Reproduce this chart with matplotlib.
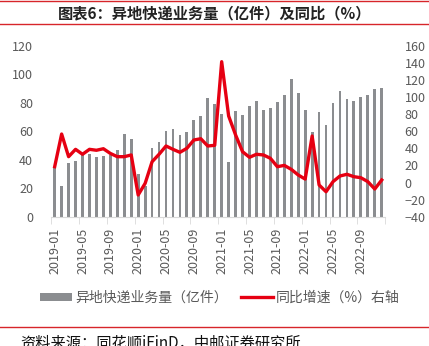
import matplotlib
matplotlib.use("Agg")
import matplotlib.pyplot as plt
import numpy as np
from matplotlib.lines import Line2D
from matplotlib.patches import Patch

plt.rcParams['font.family'] = ['Noto Sans CJK SC', 'DejaVu Sans']

# monthly data, 2019-01 .. 2022-12
months = [f"{y}-{m:02d}" for y in range(2019, 2023) for m in range(1, 13)]

# 异地快递业务量 (亿件)
volume = [34, 21.5, 38, 39, 43, 44, 42, 42.5, 43.5, 46.5, 57.7, 54.6,
          29.7, 21.6, 48, 52.5, 60.2, 61.2, 57, 59.5, 67.7, 70.5, 83, 79,
          72.4, 38.2, 74.5, 71.5, 77.8, 81.3, 75.2, 76.1, 80.4, 85.3, 96.7, 86.9,
          75.2, 59.5, 73.3, 64, 80.1, 88.5, 82.5, 81.3, 83.9, 85.7, 89.5, 90]

# 同比增速 (%), right axis
yoy = [18.5, 56.7, 30.2, 38.8, 33, 38.8, 37.7, 39.5, 34, 30.2, 30.2, 32.2,
       -14.6, -1, 24.3, 33, 42.7, 38.8, 35.3, 40, 49.7, 51.2, 42.7, 43.5,
       141.3, 77.8, 55.6, 36, 29.5, 33, 32.2, 28.3, 18.5, 20, 15.4, 8.8,
       4, 54.4, -2.9, -10.8, 1, 7.6, 9.6, 6.8, 5.6, 1, -7.6, 2.9]

title = "图表6：异地快递业务量（亿件）及同比（%）"
bar_label = "异地快递业务量（亿件）"
line_label = "同比增速（%）右轴"
source = "资料来源：同花顺iFinD，中邮证券研究所"

W, H = 429, 346
fig = plt.figure(figsize=(W / 100, H / 100), dpi=100)
ax = fig.add_axes([51.2 / W, 1 - 216.7 / H, (385.2 - 51.2) / W, (216.7 - 45.7) / H])
ax2 = ax.twinx()

x = np.arange(len(months))
bar_color = "#8b8d90"
red = "#e60012"
text_gray = "#595959"

ax.bar(x, volume, width=0.4, color=bar_color, zorder=1)
ax2.plot(x, yoy, color=red, lw=2.4, solid_joinstyle="round", zorder=3)

ax.set_xlim(-0.5, len(months) - 0.5)
ax.set_ylim(0, 120)
ax.set_yticks(range(0, 121, 20))
ax2.set_ylim(-40, 160)
ax2.set_yticks(range(-40, 161, 20))

ax.set_xticks(x[::4])
ax.set_xticklabels(months[::4], rotation=90)
# tick marks sit on the category boundaries, every 4 months
ax.set_xticks(list(np.arange(-0.5, 44, 4)) + [47.5], minor=True)
ax.tick_params(axis="x", which="major", length=0, pad=8, labelsize=9, labelcolor=text_gray)
ax.tick_params(axis="x", which="minor", length=5, color="#d9d9d9", direction="out")
ax.tick_params(axis="y", length=0, pad=13, labelsize=9, labelcolor=text_gray)
ax2.tick_params(axis="y", length=0, pad=14, labelsize=9, labelcolor=text_gray)

for a in (ax, ax2):
    for side in ("top", "left", "right"):
        a.spines[side].set_visible(False)
ax.spines["bottom"].set_color("#d9d9d9")
ax2.spines["bottom"].set_visible(False)

# title and red rules
fig.text(0.5, 1 - 13 / H, title, ha="center", va="center", fontsize=11,
         fontweight="bold", color="#222222")
for yy in (1, 24, 326.5):
    fig.add_artist(Line2D([0, 1], [1 - yy / H, 1 - yy / H], transform=fig.transFigure,
                          color="#d7252a", lw=1.0))

handles = [Patch(facecolor=bar_color, edgecolor="none"),
           Line2D([0], [0], color=red, lw=2.4)]
fig.legend(handles, [bar_label, line_label], loc="center", ncol=2,
           bbox_to_anchor=(220 / W, 1 - 298 / H), frameon=False, fontsize=10,
           labelcolor=text_gray, handlelength=2.3, handleheight=0.55,
           handletextpad=0.2, columnspacing=1.0)

fig.text(20 / W, 1 - 335 / H, source, ha="left", va="top", fontsize=11, color="#111111")

fig.savefig("out.png", dpi=100)
